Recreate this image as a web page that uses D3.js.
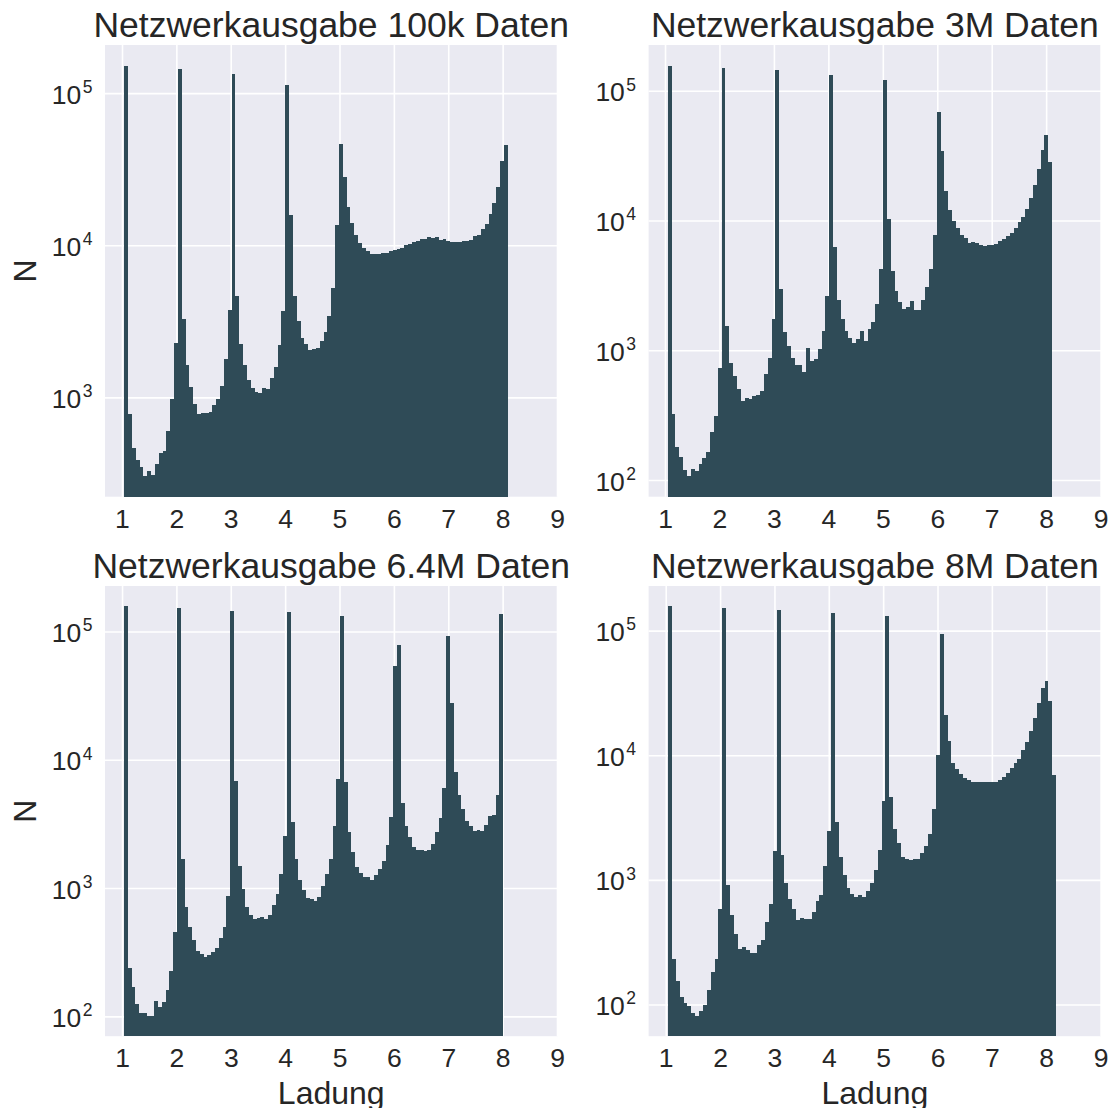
<!DOCTYPE html>
<html>
<head>
<meta charset="utf-8">
<script src="https://cdn.jsdelivr.net/npm/d3@7"></script>
<style>
  html, body { margin: 0; padding: 0; background: #ffffff; }
  svg { display: block; }
  text { font-family: "Liberation Sans", Arial, sans-serif; fill: #262626; }
</style>
</head>
<body>
<svg id="chart" width="1114" height="1108"></svg>
<script>
// Panel titles
const titles = [
  "Netzwerkausgabe 100k Daten",
  "Netzwerkausgabe 3M Daten",
  "Netzwerkausgabe 6.4M Daten",
  "Netzwerkausgabe 8M Daten"
];

// Histogram range (charge) for each panel, 100 equal bins
const binLo = [1.031, 1.042, 1.026, 1.033];
const binHi = [8.085, 8.100, 8.000, 8.175];

// Counts per bin
const counts100k = [
  153000, 783, 468, 390, 351, 306, 330, 310, 367, 433,
  447, 606, 984, 2305, 146000, 3320, 1652, 1183, 913, 783,
  796, 796, 809, 900, 984, 1200, 1808, 3810, 135500, 4710,
  2270, 1652, 1315, 1164, 1096, 1080, 1164, 1146, 1356, 1603,
  2240, 3750, 114600, 15900, 4710, 3220, 2490, 2270, 2073, 2106,
  2138, 2355, 2700, 3476, 5245, 13650, 46800, 28340, 17950, 14070,
  11730, 10390, 9620, 9200, 8790, 8790, 8790, 8920, 8920, 9200,
  9330, 9480, 9620, 10070, 10230, 10540, 10710, 11050, 11050, 11390,
  11210, 11390, 10880, 11050, 10710, 10540, 10540, 10540, 10710, 10710,
  10880, 11560, 11730, 12850, 13870, 16150, 19080, 24340, 36150, 46030
];
const counts3M = [
  158000, 327, 181, 152, 120, 108, 122, 118, 134, 149,
  166, 237, 315, 740, 152500, 1540, 809, 642, 510, 411,
  434, 426, 450, 458, 492, 666, 885, 1742, 147000, 2970,
  1407, 1096, 885, 782, 782, 690, 1057, 840, 869, 1040,
  1433, 2623, 134600, 6280, 2443, 1773, 1433, 1265, 1157, 1242,
  1433, 1197, 1459, 1680, 2274, 4243, 123000, 10350, 4095, 2868,
  2357, 2081, 2194, 2400, 2045, 2045, 2443, 3083, 4243, 7790,
  69600, 34770, 17030, 12130, 9980, 8810, 7790, 7370, 6740, 6870,
  6740, 6510, 6400, 6510, 6510, 6620, 6990, 7240, 7640, 8060,
  8810, 9810, 10730, 12370, 15040, 18950, 25220, 35420, 46270, 28570
];
const counts64M = [
  158000, 242, 171, 127, 108, 108, 102, 102, 134, 120,
  130, 162, 226, 461, 153000, 1713, 718, 505, 394, 327,
  310, 292, 306, 321, 345, 409, 499, 871, 144500, 6840,
  1507, 1000, 713, 624, 580, 588, 598, 577, 624, 740,
  902, 1288, 2553, 142000, 3327, 1690, 1164, 982, 849, 829,
  795, 859, 1050, 1288, 1713, 3098, 7130, 132000, 6710, 2740,
  1910, 1463, 1313, 1236, 1236, 1164, 1265, 1419, 1652, 2193,
  3596, 54700, 78500, 4670, 3060, 2507, 2104, 2005, 2005, 1955,
  2005, 2220, 2740, 3556, 6090, 92400, 28100, 8050, 5330, 4140,
  3375, 3098, 2795, 2863, 2795, 3115, 3665, 3730, 5400, 137000
];
const counts8M = [
  157800, 236, 155, 115, 103, 99, 87, 82, 89, 100,
  133, 183, 232, 590, 152000, 914, 525, 370, 281, 290,
  274, 259, 259, 303, 331, 460, 645, 1718, 148000, 1611,
  961, 708, 584, 484, 496, 490, 490, 558, 686, 762,
  1303, 2512, 141000, 2932, 1535, 1097, 865, 782, 735, 768,
  739, 817, 944, 1211, 1758, 4310, 132400, 4655, 2607, 1995,
  1553, 1496, 1469, 1478, 1478, 1652, 1883, 2359, 3741, 10130,
  95700, 21280, 13180, 8790, 7850, 7110, 6640, 6440, 6170, 6170,
  6170, 6170, 6170, 6170, 6170, 6400, 6730, 7300, 8000, 8730,
  9410, 11070, 12940, 15790, 20000, 26660, 35080, 40000, 27700, 7030
];

// Axis ticks
const xTicks = [1, 2, 3, 4, 5, 6, 7, 8, 9];
const yTickExponents = [2, 3, 4, 5];
const xLabel = "Ladung";
const yLabel = "N";

const seriesList = [counts100k, counts3M, counts64M, counts8M];

// Layout of the 2x2 grid of axes
const colLeft = [105, 648.6];
const colWidth = 452.5;
const rowTop = [45, 586];
const rowHeight = [451.7, 450.2];

const BAR = "#2f4b57";
const BG = "#eaeaf2";

const svg = d3.select("#chart");
svg.append("rect").attr("width", 1114).attr("height", 1108).attr("fill", "#ffffff");

seriesList.forEach((counts, p) => {
  const row = Math.floor(p / 2), col = p % 2;
  const w = colWidth, h = rowHeight[row];
  const g = svg.append("g").attr("transform", `translate(${colLeft[col]},${rowTop[row]})`);

  // bin edges
  const n = counts.length;
  const edges = d3.range(n + 1).map(i => binLo[p] + (binHi[p] - binLo[p]) * i / n);

  // x: auto margin on the left, ticks extend the view to 9 on the right
  const span = binHi[p] - binLo[p];
  const x = d3.scaleLinear().domain([binLo[p] - 0.05 * span, 9]).range([0, w]);

  // y: log scale with 5% padding in log space
  const [mn, mx] = d3.extent(counts);
  const lmn = Math.log10(mn), lmx = Math.log10(mx), lr = lmx - lmn;
  const y = d3.scaleLog()
    .domain([Math.pow(10, lmn - 0.05 * lr), Math.pow(10, lmx + 0.05 * lr)])
    .range([h, 0]);
  const [d0, d1] = y.domain();
  const yTicks = yTickExponents.filter(e => Math.pow(10, e) >= d0 && Math.pow(10, e) <= d1);

  g.append("rect").attr("width", w).attr("height", h).attr("fill", BG);

  // grid
  g.selectAll("line.vgrid").data(xTicks).join("line")
    .attr("class", "vgrid")
    .attr("x1", d => x(d)).attr("x2", d => x(d))
    .attr("y1", 0).attr("y2", h)
    .attr("stroke", "#ffffff").attr("stroke-width", 1.6);
  g.selectAll("line.hgrid").data(yTicks).join("line")
    .attr("class", "hgrid")
    .attr("x1", 0).attr("x2", w)
    .attr("y1", d => y(Math.pow(10, d))).attr("y2", d => y(Math.pow(10, d)))
    .attr("stroke", "#ffffff").attr("stroke-width", 1.6);

  // histogram bars
  g.append("g").attr("shape-rendering", "crispEdges")
    .selectAll("rect").data(counts).join("rect")
    .attr("x", (d, i) => x(edges[i]))
    .attr("width", (d, i) => x(edges[i + 1]) - x(edges[i]))
    .attr("y", d => y(d))
    .attr("height", d => h - y(d))
    .attr("fill", BAR);

  // x tick labels
  g.selectAll("text.xt").data(xTicks).join("text")
    .attr("class", "xt")
    .attr("x", d => x(d)).attr("y", h + 31)
    .attr("text-anchor", "middle")
    .attr("font-size", 26.5)
    .text(d => d);

  // y tick labels: 10^e
  const yt = g.selectAll("text.yt").data(yTicks).join("text")
    .attr("class", "yt")
    .attr("x", -12.5)
    .attr("y", d => y(Math.pow(10, d)) + 10)
    .attr("text-anchor", "end")
    .attr("font-size", 26.5);
  yt.append("tspan").text("10");
  yt.append("tspan").attr("font-size", 17.5).attr("dx", 1.5).attr("dy", -10.7).text(d => d);

  // title
  g.append("text")
    .attr("x", w / 2).attr("y", -8.5)
    .attr("text-anchor", "middle")
    .attr("font-size", 35.5)
    .text(titles[p]);

  if (col === 0) {
    g.append("text")
      .attr("transform", `translate(${35.7 - colLeft[0]},${h / 2}) rotate(-90)`)
      .attr("text-anchor", "middle")
      .attr("font-size", 32)
      .text(yLabel);
  }
  if (row === 1) {
    g.append("text")
      .attr("x", w / 2).attr("y", h + 67.5)
      .attr("text-anchor", "middle")
      .attr("font-size", 32)
      .text(xLabel);
  }
});
</script>
</body>
</html>
